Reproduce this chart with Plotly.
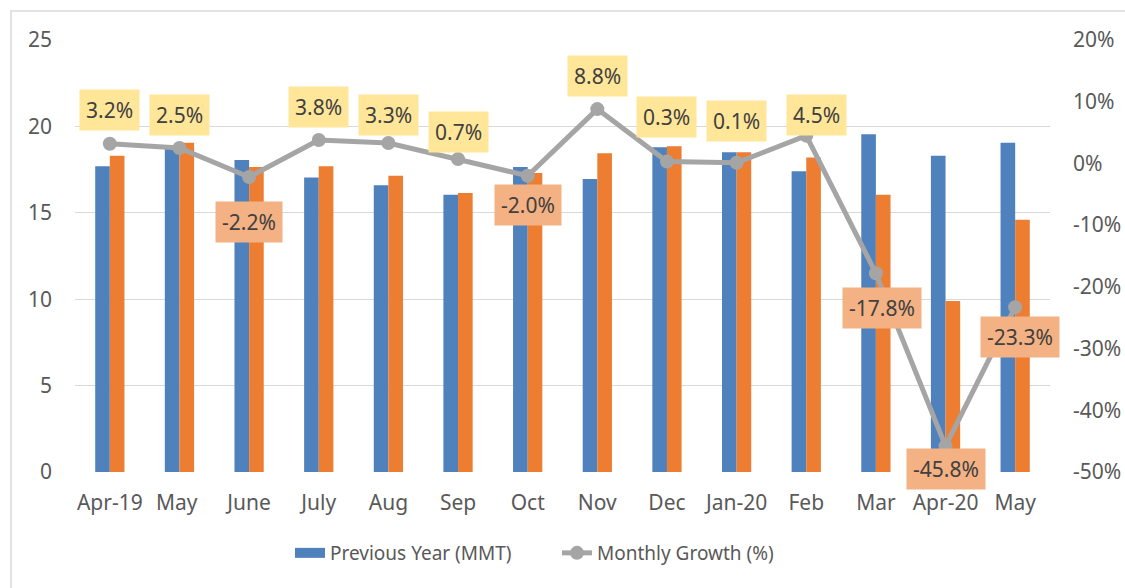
import plotly.graph_objects as go

months = ["Apr-19", "May ", "June", "July", "Aug", "Sep", "Oct", "Nov", "Dec",
          "Jan-20", "Feb", "Mar", "Apr-20", "May"]
previous_year = [17.7, 18.9, 18.05, 17.05, 16.6, 16.05, 17.65, 16.95, 18.8,
                 18.5, 17.4, 19.55, 18.3, 19.05]
current_year = [18.3, 19.05, 17.65, 17.7, 17.15, 16.15, 17.3, 18.45, 18.85,
                18.5, 18.2, 16.05, 9.9, 14.6]
monthly_growth = [3.2, 2.5, -2.2, 3.8, 3.3, 0.7, -2.0, 8.8, 0.3, 0.1, 4.5,
                  -17.8, -45.8, -23.3]
left_ticks = [0, 5, 10, 15, 20, 25]
right_ticks = [-50, -40, -30, -20, -10, 0, 10, 20]

# label styling (offsets in px)
label_yshift = [34, 33, -45, 33, 28, 27, -29, 33, 45, 42, 21, -35, -23, -30]
label_xshift = [0, 0, 0, 0, 0, 0, 0, 0, 0, 0, 10, 6, 0, 5]

FONT = "Noto Sans"
TXT = "#595959"
BLUE = "#4F81BD"
ORANGE = "#ED7D31"
GRAY = "#A5A5A5"
FS = 21

fig = go.Figure()
fig.add_trace(go.Bar(x=months, y=previous_year, name="Previous Year (MMT)",
                     marker=dict(color=BLUE, line=dict(width=0)),
                     showlegend=False))
fig.add_trace(go.Bar(x=months, y=current_year, name="Current Year (MMT)",
                     marker=dict(color=ORANGE, line=dict(width=0)),
                     showlegend=False))
# legend proxy for the blue bars (wide rectangular swatch)
fig.add_trace(go.Scatter(x=[months[0]], y=[None], mode="lines",
                         name="Previous Year (MMT)",
                         line=dict(color=BLUE, width=14)))
fig.add_trace(go.Scatter(x=months, y=monthly_growth, yaxis="y2",
                         name="Monthly Growth (%)", mode="lines+markers",
                         line=dict(color=GRAY, width=5),
                         marker=dict(color=GRAY, size=14)))

annotations = []
for m, v, ys, xs in zip(months, monthly_growth, label_yshift, label_xshift):
    annotations.append(dict(
        x=m, y=v, xref="x", yref="y2", text=f"{v:.1f}%", showarrow=False,
        yshift=ys, xshift=xs,
        font=dict(family=FONT, size=FS, color="#404040"),
        bgcolor="#FFE699" if v >= 0 else "#F4B183",
        borderpad=6))

W, H = 1125, 588
L, R, T, B = 75, 75, 40, 116
pw, ph = W - L - R, H - T - B

fig.update_layout(
    width=W, height=H,
    margin=dict(l=L, r=R, t=T, b=B, pad=0, autoexpand=False),
    paper_bgcolor="white", plot_bgcolor="white",
    font=dict(family=FONT, size=FS, color=TXT),
    barmode="group", bargap=0.58, bargroupgap=0.0,
    xaxis=dict(showgrid=False, showline=False, zeroline=False,
               range=[-0.5, len(months) - 0.5],
               ticks="", ticklabelstandoff=16, automargin=False,
               tickfont=dict(family=FONT, size=FS, color=TXT)),
    yaxis=dict(range=[0, 25], tickvals=left_ticks,
               ticktext=[str(t) for t in left_ticks],
               showgrid=True, gridcolor="#D9D9D9",
               gridwidth=1.3, zeroline=False, showline=False,
               ticks="", ticklabelstandoff=22, automargin=False,
               tickfont=dict(family=FONT, size=FS, color=TXT)),
    yaxis2=dict(range=[-50, 20], tickvals=right_ticks,
                ticktext=[f"{t}%" for t in right_ticks],
                overlaying="y", side="right",
                showgrid=False, zeroline=False, showline=False,
                ticks="", ticklabelstandoff=22, automargin=False,
                tickfont=dict(family=FONT, size=FS, color=TXT)),
    legend=dict(orientation="h", x=(290 - L) / pw, xanchor="left",
                y=(472 - 553) / ph, yanchor="middle",
                entrywidth=222, entrywidthmode="pixels",
                font=dict(family=FONT, size=19, color=TXT),
                bgcolor="rgba(0,0,0,0)"),
    annotations=annotations,
    shapes=[dict(type="rect", xref="paper", yref="paper",
                 x0=(11 - L) / pw, x1=2.0,
                 y0=-2.0, y1=1 + (T - 11) / ph,
                 line=dict(color="#D9D9D9", width=1.5),
                 fillcolor="rgba(0,0,0,0)", layer="below")],
)

fig.write_html("out.html")
